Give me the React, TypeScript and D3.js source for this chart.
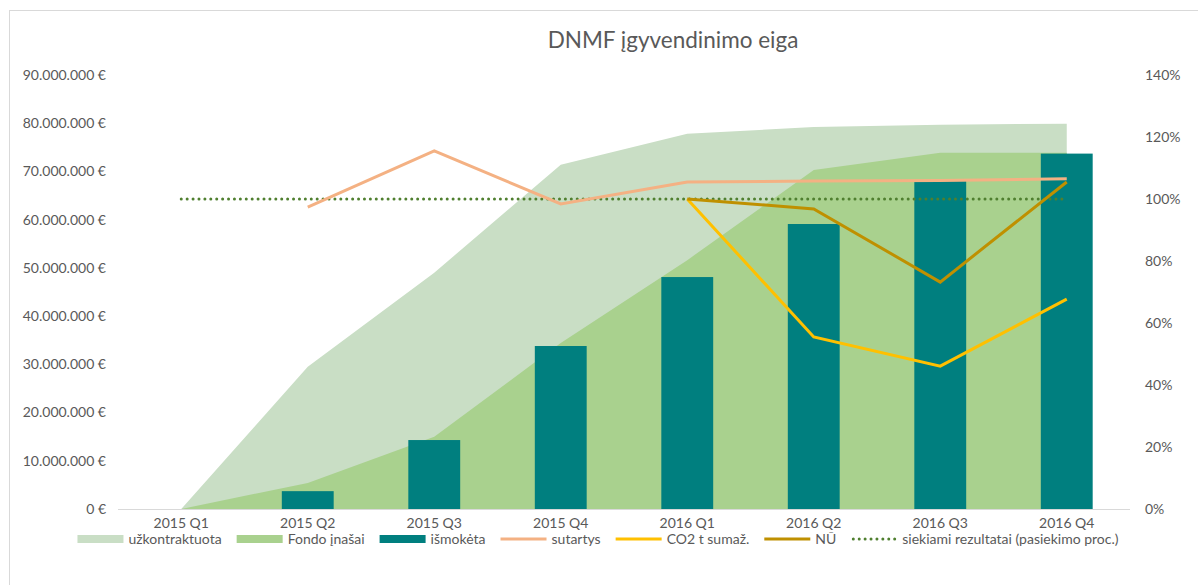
import React, { useEffect, useRef } from "react";
import * as d3 from "d3";

const categories = ["2015 Q1", "2015 Q2", "2015 Q3", "2015 Q4", "2016 Q1", "2016 Q2", "2016 Q3", "2016 Q4"];
const uzkontraktuota = [0, 29.5, 49.0, 71.4, 77.8, 79.2, 79.7, 79.9]; // mln €
const fondoInasai = [0, 5.4, 15.0, 34.4, 51.6, 70.3, 73.9, 73.9];
const ismoketa = [0, 3.7, 14.3, 33.8, 48.1, 59.1, 68.0, 73.7];
const sutartys: (number | null)[] = [null, 97.4, 115.5, 98.4, 105.5, 105.8, 106.0, 106.5]; // %
const co2: (number | null)[] = [null, null, null, null, 100, 55.5, 46.1, 67.7];
const nu: (number | null)[] = [null, null, null, null, 100, 96.8, 73.2, 105.5];
const siekiami = [100, 100, 100, 100, 100, 100, 100, 100];
const leftTicks = [0, 10, 20, 30, 40, 50, 60, 70, 80, 90];
const rightTicks = [0, 20, 40, 60, 80, 100, 120, 140];

const FONT = "Lato, 'Open Sans', sans-serif";
const C = {
  uzk: "#c9dec5",
  fondo: "#a9d18e",
  ism: "#007f7f",
  sut: "#f4b183",
  co2: "#ffc000",
  nu: "#bf9000",
  siek: "#4f7f2f",
  text: "#595959",
};

export default function App() {
  const ref = useRef<SVGSVGElement>(null);
  useEffect(() => {
    const svg = d3.select(ref.current);
    svg.selectAll("*").remove();
    const W = 1198, H = 585;
    const m = { left: 118, right: 1130, top: 75, bottom: 509 };
    const x = d3.scaleBand().domain(categories).range([m.left, m.right]);
    const cx = (c: string) => (x(c) as number) + x.bandwidth() / 2;
    const yL = d3.scaleLinear().domain([0, 90]).range([m.bottom, m.top]);
    const yR = d3.scaleLinear().domain([0, 140]).range([m.bottom, m.top]);

    svg.append("rect").attr("x", 9.5).attr("y", 10.5).attr("width", W).attr("height", H)
      .attr("fill", "#fff").attr("stroke", "#d9d9d9");

    svg.append("text").attr("x", 673).attr("y", 48).attr("text-anchor", "middle")
      .attr("font-family", FONT).attr("font-size", 22.5).attr("fill", C.text)
      .text("DNMF įgyvendinimo eiga");

    const fs = 14;
    // left axis labels
    svg.append("g").selectAll("text").data(leftTicks).join("text")
      .attr("x", 106).attr("y", (d) => yL(d)).attr("dy", "0.35em").attr("text-anchor", "end")
      .attr("font-family", FONT).attr("font-size", fs).attr("fill", C.text)
      .text((d) => (d === 0 ? "0 €" : d3.format(",")(d * 1000000).replace(/,/g, ".") + " €"));
    // right axis labels
    svg.append("g").selectAll("text").data(rightTicks).join("text")
      .attr("x", 1145).attr("y", (d) => yR(d)).attr("dy", "0.35em").attr("text-anchor", "start")
      .attr("font-family", FONT).attr("font-size", fs).attr("fill", C.text)
      .text((d) => d + "%");

    const idx = categories.map((c, i) => i);
    const area = (vals: number[]) =>
      d3.area<number>().x((i) => cx(categories[i])).y0(m.bottom).y1((i) => yL(vals[i]))(idx);
    svg.append("path").attr("d", area(uzkontraktuota)).attr("fill", C.uzk);
    svg.append("path").attr("d", area(fondoInasai)).attr("fill", C.fondo);

    const bw = x.bandwidth() * 0.41;
    svg.append("g").selectAll("rect").data(idx.filter((i) => ismoketa[i] > 0)).join("rect")
      .attr("x", (i) => cx(categories[i]) - bw / 2).attr("width", bw)
      .attr("y", (i) => yL(ismoketa[i])).attr("height", (i) => m.bottom - yL(ismoketa[i]))
      .attr("fill", C.ism);

    // axis line
    svg.append("line").attr("x1", m.left).attr("x2", m.right).attr("y1", m.bottom + 0.5).attr("y2", m.bottom + 0.5)
      .attr("stroke", "#d9d9d9").attr("stroke-width", 1);
    svg.append("g").selectAll("text").data(categories).join("text")
      .attr("x", (c) => cx(c)).attr("y", 523).attr("dy", "0.35em").attr("text-anchor", "middle")
      .attr("font-family", FONT).attr("font-size", fs).attr("fill", C.text).text((c) => c);

    const line = (vals: (number | null)[]) =>
      d3.line<number>().defined((i) => vals[i] != null).x((i) => cx(categories[i])).y((i) => yR(vals[i] as number))(idx);
    svg.append("path").attr("d", line(siekiami)).attr("fill", "none").attr("stroke", C.siek)
      .attr("stroke-width", 3).attr("stroke-linecap", "round").attr("stroke-dasharray", "0.01 5.9");
    svg.append("path").attr("d", line(sutartys)).attr("fill", "none").attr("stroke", C.sut).attr("stroke-width", 3);
    svg.append("path").attr("d", line(co2)).attr("fill", "none").attr("stroke", C.co2).attr("stroke-width", 3);
    svg.append("path").attr("d", line(nu)).attr("fill", "none").attr("stroke", C.nu).attr("stroke-width", 3);

    // legend
    const items = [
      { label: "užkontraktuota", color: C.uzk, type: "rect" },
      { label: "Fondo įnašai", color: C.fondo, type: "rect" },
      { label: "išmokėta", color: C.ism, type: "rect" },
      { label: "sutartys", color: C.sut, type: "line" },
      { label: "CO2 t sumaž.", color: C.co2, type: "line" },
      { label: "NŪ", color: C.nu, type: "line" },
      { label: "siekiami rezultatai (pasiekimo proc.)", color: C.siek, type: "dot" },
    ];
    const lg = svg.append("g");
    const ly = 539;
    let pos = 0;
    const sw = 46, gap1 = 5, gap2 = 15;
    items.forEach((it) => {
      const g = lg.append("g").attr("transform", `translate(${pos},0)`);
      if (it.type === "rect") {
        g.append("rect").attr("x", 0).attr("y", ly - 4).attr("width", sw).attr("height", 8).attr("fill", it.color);
      } else if (it.type === "line") {
        g.append("line").attr("x1", 0).attr("x2", sw).attr("y1", ly).attr("y2", ly).attr("stroke", it.color).attr("stroke-width", 3);
      } else {
        g.append("line").attr("x1", 2).attr("x2", sw).attr("y1", ly).attr("y2", ly).attr("stroke", it.color)
          .attr("stroke-width", 3).attr("stroke-linecap", "round").attr("stroke-dasharray", "0.01 5.9");
      }
      const t = g.append("text").attr("x", sw + gap1).attr("y", ly).attr("dy", "0.35em")
        .attr("font-family", FONT).attr("font-size", fs).attr("fill", C.text).text(it.label);
      const tw = (t.node() as SVGTextElement).getComputedTextLength();
      pos += sw + gap1 + tw + gap2;
    });
    const total = pos - gap2;
    lg.attr("transform", `translate(${598 - total / 2},0)`);
  }, []);
  return (
    <svg ref={ref} width={1198} height={585} style={{ position: "absolute", left: 0, top: 0, background: "#fff" }} />
  );
}
